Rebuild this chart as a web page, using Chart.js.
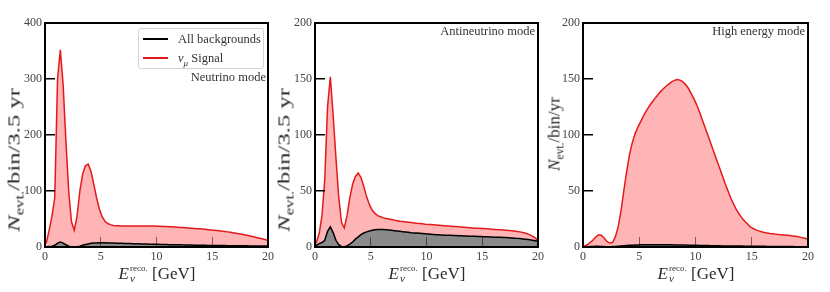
<!DOCTYPE html>
<html>
<head>
<meta charset="utf-8">
<script src="https://cdn.jsdelivr.net/npm/chart.js@4/dist/chart.umd.min.js"></script>
<style>
  body { margin: 0; width: 830px; height: 292px; background: #fff; position: relative; overflow: hidden;
         font-family: "Liberation Serif", serif; }
  canvas { position: absolute; top: 0; }
  .txt { position: absolute; white-space: nowrap; color: #2a2a2a; }
  .yt { font-size: 17px; line-height: 17px; }
  .yt sub { font-size: 11.5px; vertical-align: -4px; line-height: 0; }
  .long { transform: translate(-50%, -50%) rotate(-90deg) scaleX(1.45); }
  .short { transform: translate(-50%, -50%) rotate(-90deg); }
  .xt { font-size: 17px; transform: translateX(-50%); top: 260px; line-height: 17px; }
  .stk { position: relative; display: inline-block; font-size: 9px; vertical-align: 8px; margin-left: 1px; }
  .stk .lo { position: absolute; left: 0; top: 10px; font-size: 11px; }
  .mode { font-size: 12.5px; transform: translate(-100%, -50%); color: #333; }
  .legend { position: absolute; left: 138px; top: 28px; width: 124px; height: 39px; border: 1px solid #d4d4d4;
            border-radius: 3px; background: rgba(255,255,255,0.85); font-size: 12.5px; color: #333; }
  .legend .row { position: absolute; left: 0; height: 14px; line-height: 14px; }
  .legend .ln { position: absolute; left: 4px; top: 6px; width: 25px; height: 0; border-top: 2px solid; }
  .legend .lt { position: absolute; left: 39px; top: 0; white-space: nowrap; }
</style>
</head>
<body>
<canvas id="c1" width="280" height="292" style="left:0px"></canvas>
<canvas id="c2" width="280" height="292" style="left:270px"></canvas>
<canvas id="c3" width="285" height="292" style="left:538px"></canvas>

<div class="txt yt long" style="left:14px;top:160px"><i>N</i><sub>evt.</sub>/bin/3.5 yr</div>
<div class="txt yt long" style="left:284px;top:160px"><i>N</i><sub>evt.</sub>/bin/3.5 yr</div>
<div class="txt yt short" style="left:554px;top:134px"><i>N</i><sub>evt.</sub>/bin/yr</div>

<div class="txt xt" style="left:157px"><i>E</i><span class="stk">reco.<span class="lo"><i>ν</i></span></span> [GeV]</div>
<div class="txt xt" style="left:427px"><i>E</i><span class="stk">reco.<span class="lo"><i>ν</i></span></span> [GeV]</div>
<div class="txt xt" style="left:696px"><i>E</i><span class="stk">reco.<span class="lo"><i>ν</i></span></span> [GeV]</div>

<div class="txt mode" style="left:266px;top:77px">Neutrino mode</div>
<div class="txt mode" style="left:535px;top:31px">Antineutrino mode</div>
<div class="txt mode" style="left:805px;top:31px">High energy mode</div>

<div class="legend">
  <div class="row" style="top:3px"><span class="ln" style="border-color:#000"></span><span class="lt">All backgrounds</span></div>
  <div class="row" style="top:22px"><span class="ln" style="border-color:#e31a1c"></span><span class="lt"><i>ν</i><sub style="font-size:9px;line-height:0"><i>μ</i></sub> Signal</span></div>
</div>

<script>
// 0.25 GeV bins from 0 to 20 GeV
const binWidth = 0.25;
const xTicks = [0, 5, 10, 15, 20];
const yMaxes = [400, 200, 200];
const yStep = [100, 50, 50];

const nuSignal = [
  8, 30, 55, 88, 300, 352, 290, 190, 100, 45, 30, 55, 100, 130, 145, 148, 135, 112, 88, 68,
  54, 46, 42, 40, 38.5, 38, 38, 37.5, 37.5, 37.5, 37.5, 37.5, 37.5, 37.5, 37.5, 37.5, 37.5, 37.5, 37.5, 37.3,
  37, 37, 36.8, 36.5, 36.2, 36, 35.7, 35.4, 35, 34.7, 34.3, 34, 33.6, 33.2, 32.8, 32.4, 32, 31.5, 31, 30.5,
  30, 29.5, 29, 28.3, 27.6, 27, 26.2, 25.4, 24.6, 23.7, 22.8, 21.8, 20.8, 19.7, 18.6, 17.4, 16.2, 15, 13.7, 12.4
];
const nuBackground = [
  0.5, 1, 1.5, 3, 7, 9, 7, 4, 1.5, 0.5, 0.3, 0.5, 1.5, 3, 4.5, 5.5, 6.5, 7, 7.3, 7.5,
  7.5, 7.5, 7.3, 7.2, 7, 6.9, 6.7, 6.6, 6.4, 6.3, 6.1, 6, 5.8, 5.7, 5.5, 5.4, 5.2, 5.1, 5, 4.8,
  4.7, 4.6, 4.4, 4.3, 4.2, 4.1, 4, 3.9, 3.8, 3.7, 3.6, 3.5, 3.4, 3.3, 3.2, 3.1, 3, 3, 2.9, 2.8,
  2.7, 2.7, 2.6, 2.5, 2.5, 2.4, 2.4, 2.3, 2.3, 2.2, 2.2, 2.1, 2.1, 2, 2, 1.9, 1.9, 1.8, 1.7, 1.6
];

const antiSignal = [
  4, 12, 28, 60, 125, 152, 118, 80, 45, 22, 17, 28, 44, 56, 63, 66, 62, 54, 45, 38,
  33, 30, 28, 27, 26, 25.5, 25, 24.5, 24, 23.5, 23, 22.7, 22.4, 22.1, 21.8, 21.5, 21.2, 21, 20.7, 20.4,
  20.2, 20, 19.8, 19.6, 19.4, 19.2, 19, 18.8, 18.6, 18.4, 18.2, 18, 17.8, 17.6, 17.4, 17.2, 17, 16.8, 16.7, 16.6,
  16.5, 16.3, 16.1, 15.9, 15.7, 15.5, 15.3, 15.1, 14.9, 14.7, 14.5, 14.2, 13.9, 13.5, 13, 12.3, 11.5, 10.4, 9, 7
];
const antiBackground = [
  1.5, 3, 4, 6, 14, 18, 13, 6, 2, 0.5, 0.3, 1, 2.5, 4.5, 7, 9, 11, 12.5, 13.5, 14.2,
  15, 15.4, 15.6, 15.7, 15.6, 15.4, 15.2, 14.9, 14.6, 14.3, 14, 13.7, 13.4, 13.1, 12.8, 12.6, 12.4, 12.2, 12, 11.8,
  11.6, 11.4, 11.2, 11, 10.9, 10.8, 10.6, 10.5, 10.4, 10.3, 10.2, 10.1, 10, 9.9, 9.8, 9.7, 9.6, 9.5, 9.4, 9.3,
  9.2, 9.1, 9, 8.9, 8.8, 8.7, 8.6, 8.5, 8.4, 8.3, 8.1, 7.9, 7.7, 7.5, 7.2, 6.9, 6.6, 6.2, 5.8, 5.3
];

const heSignal = [
  1, 2, 4, 6, 9, 11, 10.5, 8, 5, 3.5, 4, 9, 18, 32, 50, 67, 82, 93, 101, 107,
  112, 117, 121.5, 125.5, 129, 132.5, 135.5, 138.5, 141, 143.5, 145.5, 147.5, 148.8, 149.5, 149, 147.5, 145, 141.5, 137, 132,
  126.5, 120, 113, 106, 99, 92, 85, 78, 71, 64, 57, 50.5, 44, 38.5, 33.5, 29.5, 26, 23, 20.5, 18,
  16.5, 15.3, 14.4, 13.6, 13, 12.5, 12.1, 11.8, 11.5, 11.2, 11, 10.8, 10.5, 10.2, 9.9, 9.5, 9.1, 8.6, 8, 7.3
];
const heBackground = [
  0.2, 0.3, 0.4, 0.5, 0.6, 0.6, 0.5, 0.4, 0.3, 0.3, 0.4, 0.5, 0.7, 0.9, 1.1, 1.3, 1.5, 1.6, 1.7, 1.8,
  1.9, 1.9, 2, 2, 2, 2, 2, 2, 2, 1.9, 1.9, 1.9, 1.8, 1.8, 1.8, 1.7, 1.7, 1.6, 1.6, 1.5,
  1.5, 1.4, 1.4, 1.3, 1.3, 1.2, 1.2, 1.1, 1.1, 1, 1, 0.9, 0.9, 0.9, 0.8, 0.8, 0.8, 0.7, 0.7, 0.7,
  0.7, 0.6, 0.6, 0.6, 0.6, 0.5, 0.5, 0.5, 0.5, 0.5, 0.4, 0.4, 0.4, 0.4, 0.4, 0.3, 0.3, 0.3, 0.3, 0.3
];

// right-hand padding of each canvas so the plot areas end at x = 268, 538, 808
const rightPad = [12, 12, 15];

// bin contents placed at bin centres, with the outer edges held at the first / last value
const toPoints = vals => {
  const pts = [{ x: 0, y: vals[0] }];
  vals.forEach((v, i) => pts.push({ x: (i + 0.5) * binWidth, y: v }));
  pts.push({ x: vals.length * binWidth, y: vals[vals.length - 1] });
  return pts;
}

const frame = {
  id: 'frame',
  afterDraw(chart) {
    const { ctx, chartArea: a } = chart;
    ctx.save();
    ctx.strokeStyle = '#000';
    ctx.lineWidth = 2;
    ctx.strokeRect(a.left, a.top, a.right - a.left, a.bottom - a.top);
    ctx.restore();
  }
}

const tickFont = { family: 'Liberation Serif', size: 12 };

const makeChart = (id, signal, background, idx) => {
  new Chart(document.getElementById(id), {
    type: 'line',
    data: {
      datasets: [
        {
          label: 'All backgrounds',
          data: toPoints(background),
          borderColor: '#000',
          borderWidth: 1.5,
          backgroundColor: '#8a8a8a',
          fill: 'origin',
          pointRadius: 0,
          tension: 0
        },
        {
          label: 'Signal',
          data: toPoints(signal),
          borderColor: '#e31a1c',
          borderWidth: 1.5,
          backgroundColor: 'rgba(255, 0, 0, 0.29)',
          fill: 'origin',
          pointRadius: 0,
          tension: 0
        }
      ]
    },
    options: {
      responsive: false,
      animation: false,
      layout: { padding: { left: 0, top: 23, right: rightPad[idx], bottom: 0 } },
      plugins: { legend: { display: false }, tooltip: { enabled: false } },
      scales: {
        x: {
          type: 'linear',
          min: 0, max: 20,
          z: 1,
          afterFit: s => { s.height = 45; s.paddingLeft = 0; s.paddingRight = 0; },
          afterBuildTicks: s => { s.ticks = xTicks.map(v => ({ value: v })); },
          ticks: { font: tickFont, color: '#444', padding: 13, maxRotation: 0, autoSkip: false },
          grid: { drawOnChartArea: false, tickLength: -10, color: 'rgba(0,0,0,0.5)', lineWidth: 1, z: 1 },
          border: { display: false }
        },
        y: {
          min: 0, max: yMaxes[idx],
          z: 1,
          afterFit: s => { s.width = 45; s.paddingTop = 0; s.paddingBottom = 0; },
          ticks: { stepSize: yStep[idx], font: tickFont, color: '#444', padding: 13 },
          grid: { drawOnChartArea: false, tickLength: -10, color: '#000', lineWidth: 1.5, z: 1 },
          border: { display: false }
        }
      }
    },
    plugins: [frame]
  });
}

makeChart('c1', nuSignal, nuBackground, 0);
makeChart('c2', antiSignal, antiBackground, 1);
makeChart('c3', heSignal, heBackground, 2);
</script>
</body>
</html>
